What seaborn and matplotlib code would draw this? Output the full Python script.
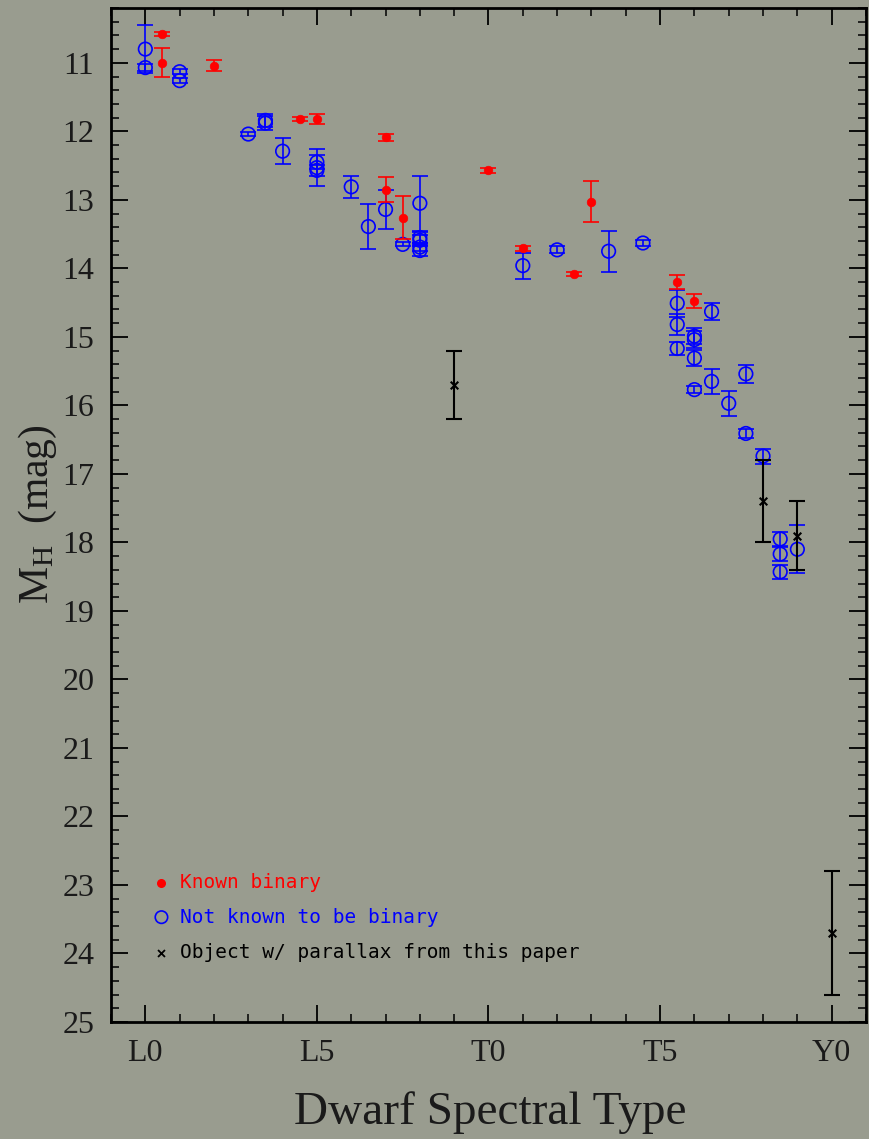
import numpy as np
import pandas as pd
import seaborn as sns
import matplotlib
matplotlib.use("Agg")
import matplotlib.pyplot as plt
from matplotlib.ticker import MultipleLocator, FixedLocator

# Spectral type encoded numerically: L0 = 0, T0 = 10, Y0 = 20
# Known binaries
bin_spt = [0.5, 0.5, 2.0, 4.5, 5.0, 7.0, 7.0, 7.5, 10.0, 11.0, 12.5, 13.0, 15.5, 16.0]
bin_mh = [10.58, 11.00, 11.04, 11.82, 11.82, 12.09, 12.85, 13.26, 12.57, 13.71, 14.08, 13.03, 14.20, 14.48]
bin_err = [0.03, 0.21, 0.08, 0.03, 0.08, 0.05, 0.18, 0.31, 0.04, 0.03, 0.03, 0.30, 0.10, 0.10]

# Objects not known to be binary
single_spt = [0, 0, 1, 1, 3, 3.5, 3.5, 4, 5, 5, 5, 6, 6.5, 7, 7.5,
              8, 8, 8, 8, 8, 11, 12, 13.5, 14.5,
              15.5, 15.5, 15.5, 16, 16, 16, 16, 16.5, 16.5, 17, 17.5, 17.5,
              18, 18.5, 18.5, 18.5, 19]
single_mh = [10.80, 11.07, 11.13, 11.26, 12.04, 11.84, 11.88, 12.29, 12.45, 12.53, 12.57, 12.81, 13.39, 13.14, 13.65,
             13.05, 13.55, 13.59, 13.69, 13.74, 13.96, 13.73, 13.75, 13.63,
             14.51, 14.82, 15.17, 14.99, 15.04, 15.31, 15.77, 14.63, 15.65, 15.97, 15.54, 16.41,
             16.74, 17.95, 18.17, 18.43, 18.10]
single_err = [0.35, 0.05, 0.04, 0.04, 0.03, 0.10, 0.10, 0.19, 0.10, 0.27, 0.08, 0.16, 0.33, 0.28, 0.03,
              0.40, 0.08, 0.08, 0.06, 0.08, 0.19, 0.05, 0.30, 0.04,
              0.20, 0.15, 0.10, 0.12, 0.12, 0.12, 0.05, 0.13, 0.18, 0.18, 0.13, 0.06,
              0.11, 0.10, 0.10, 0.10, 0.35]

# Objects with new parallaxes
new_spt = [9, 18, 19, 20]
new_mh = [15.70, 17.40, 17.90, 23.70]
new_err = [0.50, 0.60, 0.50, 0.90]

tick_pos = [0, 5, 10, 15, 20]
tick_lab = ["L0", "L5", "T0", "T5", "Y0"]

legend_labels = ["Known binary", "Not known to be binary", "Object w/ parallax from this paper"]

BG = "#999c8f"
RED = "#ff0000"
BLUE = "#0000ff"

sns.set_theme(style="ticks")
plt.rcParams["font.family"] = ["Liberation Serif", "DejaVu Serif"]
plt.rcParams["mathtext.fontset"] = "custom"
plt.rcParams["mathtext.rm"] = "Liberation Serif"
plt.rcParams["mathtext.it"] = "Liberation Serif"

fig = plt.figure(figsize=(8.7, 11.39), dpi=100, facecolor=BG)
ax = fig.add_axes([111 / 870, 1 - 1022 / 1139, 755 / 870, (1022 - 8) / 1139])
ax.set_facecolor(BG)

single = pd.DataFrame({"spt": single_spt, "mh": single_mh, "err": single_err})
binary = pd.DataFrame({"spt": bin_spt, "mh": bin_mh, "err": bin_err})
new = pd.DataFrame({"spt": new_spt, "mh": new_mh, "err": new_err})

# Not known to be binary: open blue circles
ax.errorbar(single["spt"], single["mh"], yerr=single["err"], fmt="none",
            ecolor=BLUE, elinewidth=1.2, capsize=6, capthick=1.2, zorder=2)
sns.scatterplot(data=single, x="spt", y="mh", ax=ax, marker="o", s=95,
                facecolor="none", edgecolor=BLUE, linewidth=1.2, zorder=3, legend=False)

# Known binaries: filled red dots
ax.errorbar(binary["spt"], binary["mh"], yerr=binary["err"], fmt="none",
            ecolor=RED, elinewidth=1.2, capsize=6, capthick=1.2, zorder=4)
sns.scatterplot(data=binary, x="spt", y="mh", ax=ax, marker="o", s=38,
                color=RED, edgecolor=RED, linewidth=0.5, zorder=5, legend=False)

# New parallaxes: black crosses
ax.errorbar(new["spt"], new["mh"], yerr=new["err"], fmt="none",
            ecolor="black", elinewidth=1.5, capsize=6, capthick=1.5, zorder=6)
sns.scatterplot(data=new, x="spt", y="mh", ax=ax, marker="x", s=30,
                color="black", linewidth=1.5, zorder=7, legend=False)

ax.set_xlim(-1, 21)
ax.set_ylim(25, 10.2)

ax.xaxis.set_major_locator(FixedLocator(tick_pos))
ax.set_xticklabels(tick_lab)
ax.xaxis.set_minor_locator(MultipleLocator(1))
ax.yaxis.set_major_locator(MultipleLocator(1))
ax.yaxis.set_minor_locator(MultipleLocator(0.2))
ax.set_yticks(np.arange(11, 26, 1))

ax.tick_params(which="both", direction="in", top=True, right=True, colors="black")
ax.tick_params(which="major", length=12, width=1.3, labelsize=23, pad=12)
ax.tick_params(which="minor", length=6, width=1.1)
for lab in ax.get_xticklabels() + ax.get_yticklabels():
    lab.set_color("#1a1a1a")
for s in ax.spines.values():
    s.set_linewidth(2)
    s.set_color("black")

ax.set_xlabel("")
ax.set_ylabel("")
fig.text(490 / 870, 1 - 1113 / 1139, "Dwarf Spectral Type", ha="center", va="center",
         fontsize=34, color="#1a1a1a")
fig.text(38 / 870, 1 - 514 / 1139, r"$\mathrm{M_H}$  (mag)", ha="center", va="center",
         rotation=90, fontsize=30, color="#1a1a1a")

# Legend drawn in the lower-left corner
mono = ["DejaVu Sans Mono"]
leg_y = [22.97, 23.47, 23.99]
leg_col = [RED, BLUE, "black"]
ax.scatter([0.47], [leg_y[0]], s=30, color=RED, zorder=8)
ax.scatter([0.47], [leg_y[1]], s=80, facecolor="none", edgecolor=BLUE, linewidth=1.2, zorder=8)
ax.scatter([0.47], [leg_y[2]], s=25, marker="x", color="black", linewidth=1.3, zorder=8)
for yy, txt, c in zip(leg_y, legend_labels, leg_col):
    ax.text(1.02, yy, txt, color=c, fontsize=14, family=mono, va="center", ha="left")

fig.savefig("out.png", dpi=100, facecolor=BG)
